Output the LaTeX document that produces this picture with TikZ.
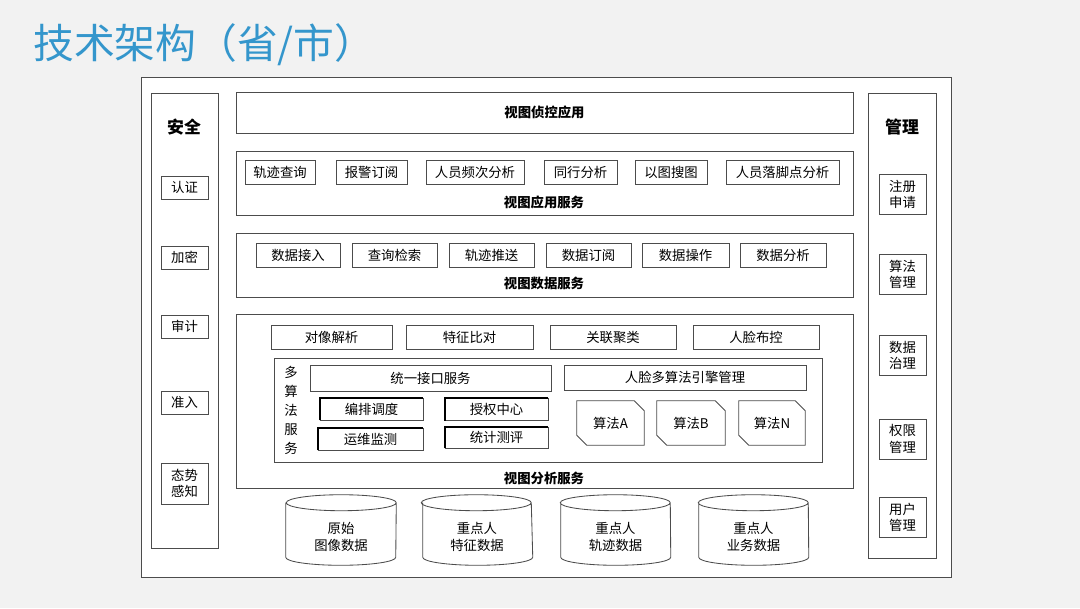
\documentclass[tikz,border=0pt]{standalone}
\usepackage{fontspec}
\setmainfont{Noto Sans CJK SC}
\usetikzlibrary{calc,positioning}
\definecolor{titleblue}{RGB}{52,150,204}
\definecolor{pagegray}{RGB}{242,242,242}
\newcommand{\cylbox}[1]{%
  \fill[white] ([yshift=-0.2cm]#1.north west) -- ([yshift=0.2cm]#1.south west)
    arc[start angle=180,end angle=360,x radius=1.375cm,y radius=0.2cm]
    -- ([yshift=-0.2cm]#1.north east)
    arc[start angle=0,end angle=180,x radius=1.375cm,y radius=0.2cm] -- cycle;
  \draw[line] ([yshift=-0.2cm]#1.north west) -- ([yshift=0.2cm]#1.south west)
    arc[start angle=180,end angle=360,x radius=1.375cm,y radius=0.2cm]
    -- ([yshift=-0.2cm]#1.north east)
    arc[start angle=0,end angle=180,x radius=1.375cm,y radius=0.2cm]
    arc[start angle=180,end angle=360,x radius=1.375cm,y radius=0.2cm];}
\newcommand{\snipbox}[1]{%
  \draw[line] (#1.north west) -- ([xshift=-0.25cm]#1.north east) -- ([yshift=-0.25cm]#1.north east)
    -- (#1.south east) -- ([xshift=0.25cm]#1.south west) -- ([yshift=0.25cm]#1.south west) -- cycle;}
\newcommand{\inset}[1]{%
  \draw[line width=1.4pt] (#1.south west) -- (#1.north west) -- (#1.north east);}

\begin{document}
\begin{tikzpicture}[x=0.025cm,y=-0.025cm,font=\fontsize{9.5}{11.5}\selectfont]
  \tikzset{
    line/.style={draw=black!70,line width=0.6pt},
    frame/.style={rectangle,line,fill=white,inner sep=0pt},
    item/.style={rectangle,line,inner sep=0pt,align=center},
    plain/.style={inner sep=0pt,align=center},
    wd/.style={minimum width=#1*0.025cm},
    ht/.style={minimum height=#1*0.025cm},
    head/.style={font=\fontsize{9.5}{11.5}\selectfont\bfseries},
    bighead/.style={font=\fontsize{12}{14}\selectfont\bfseries}
  }
  \fill[pagegray] (0,0) rectangle (1080,608);
  \useasboundingbox (0,0) rectangle (1080,608);

  % title
  \node[anchor=west,inner sep=0pt,text=titleblue,font=\fontsize{29}{32}\selectfont] (title) at (33,45) {技术架构（省/市）};

  % frames
  \node[frame,wd=810,ht=500] (outer) at (546,327) {};
  \node[frame,wd=67,ht=455] (safe) at (184.5,320.5) {};
  \node[frame,wd=68,ht=465] (mgmt) at (902,325.5) {};
  \node[frame,wd=617,ht=41] (app) at (544.5,112.5) {};
  \node[frame,wd=617,ht=64] (appsvc) at (544.5,183) {};
  \node[frame,wd=617,ht=64] (datasvc) at (544.5,265) {};
  \node[frame,wd=617,ht=174] (anasvc) at (544.5,401) {};
  \node[frame,wd=548,ht=104] (multi) at (548,410) {};
  \node[head] at (app) {视图侦控应用};
  \node[head] (appsvcl) at (544,202) {视图应用服务};
  \node[head] (datasvcl) at (544,283) {视图数据服务};
  \node[head] (anasvcl) at (544,478) {视图分析服务};

  % security column
  \node[bighead] (safel) at (184,127) {安全};
  \node[item,wd=47,ht=23] (s1) at (184.5,187.5) {认证};
  \node[item,wd=47,ht=23] (s2) at (184.5,257.5) {加密};
  \node[item,wd=47,ht=23] (s3) at (184.5,326.5) {审计};
  \node[item,wd=47,ht=23] (s4) at (184.5,402.5) {准入};
  \node[item,wd=47,ht=41] (s5) at (184.5,483.5) {态势\\感知};

  % management column
  \node[bighead] (mgmtl) at (902,127) {管理};
  \node[item,wd=47,ht=40] (m1) at (902.5,194) {注册\\申请};
  \node[item,wd=47,ht=40] (m2) at (902.5,274) {算法\\管理};
  \node[item,wd=47,ht=40] (m3) at (902.5,355) {数据\\治理};
  \node[item,wd=47,ht=40] (m4) at (902.5,439) {权限\\管理};
  \node[item,wd=47,ht=40] (m5) at (902.5,517) {用户\\管理};

  % application services
  \node[item,wd=70,ht=24] (a1) at (280,172) {轨迹查询};
  \node[item,wd=71,ht=24] (a2) at (371.5,172) {报警订阅};
  \node[item,wd=98,ht=24] (a3) at (475,172) {人员频次分析};
  \node[item,wd=73,ht=24] (a4) at (580.5,172) {同行分析};
  \node[item,wd=72,ht=24] (a5) at (671,172) {以图搜图};
  \node[item,wd=113,ht=24] (a6) at (782.5,172) {人员落脚点分析};

  % data services
  \node[item,wd=84,ht=24] (d1) at (298,255) {数据接入};
  \node[item,wd=85,ht=24] (d2) at (394.5,255) {查询检索};
  \node[item,wd=85,ht=24] (d3) at (491.5,255) {轨迹推送};
  \node[item,wd=85,ht=24] (d4) at (588.5,255) {数据订阅};
  \node[item,wd=87,ht=24] (d5) at (685.5,255) {数据操作};
  \node[item,wd=86,ht=24] (d6) at (783,255) {数据分析};

  % analysis services
  \node[item,wd=121,ht=24] (n1) at (331.5,337) {对像解析};
  \node[item,wd=127,ht=24] (n2) at (469.5,337) {特征比对};
  \node[item,wd=126,ht=24] (n3) at (613,337) {关联聚类};
  \node[item,wd=126,ht=24] (n4) at (756,337) {人脸布控};

  % multi-algorithm services
  \node[plain,font=\fontsize{9.5}{13.5}\selectfont] (multil) at (291,410) {多\\算\\法\\服\\务};
  \node[item,wd=241,ht=26] (u1) at (430.5,378) {统一接口服务};
  \node[item,wd=242,ht=25] (u2) at (685,377.5) {人脸多算法引擎管理};
  \node[item,wd=103,ht=22] (b1) at (371.5,409) {编排调度};
  \node[item,wd=103,ht=22] (b2) at (496.5,409.5) {授权中心};
  \node[item,wd=105,ht=22] (b3) at (370.5,439) {运维监测};
  \node[item,wd=103,ht=21] (b4) at (496.5,437.5) {统计测评};
  \inset{b1} \inset{b2} \inset{b3} \inset{b4}
  \node[plain,wd=67,ht=44] (g1) at (610.5,423) {};
  \node[plain,wd=68,ht=44] (g2) at (691,423) {};
  \node[plain,wd=66,ht=44] (g3) at (772,423) {};
  \snipbox{g1} \snipbox{g2} \snipbox{g3}
  \node[plain] at (g1) {算法A};
  \node[plain] at (g2) {算法B};
  \node[plain] at (g3) {算法N};

  % data stores
  \node[plain,wd=110,ht=70] (c1) at (341,530) {};
  \node[plain,wd=108,ht=70] (c2) at (477,530) {};
  \node[plain,wd=109,ht=70] (c3) at (615.5,530) {};
  \node[plain,wd=109,ht=70] (c4) at (753.5,530) {};
  \cylbox{c1} \cylbox{c2} \cylbox{c3} \cylbox{c4}
  \node[plain] at (341,537) {原始\\图像数据};
  \node[plain] at (477,537) {重点人\\特征数据};
  \node[plain] at (615.5,537) {重点人\\轨迹数据};
  \node[plain] at (753.5,537) {重点人\\业务数据};
\end{tikzpicture}
\end{document}
